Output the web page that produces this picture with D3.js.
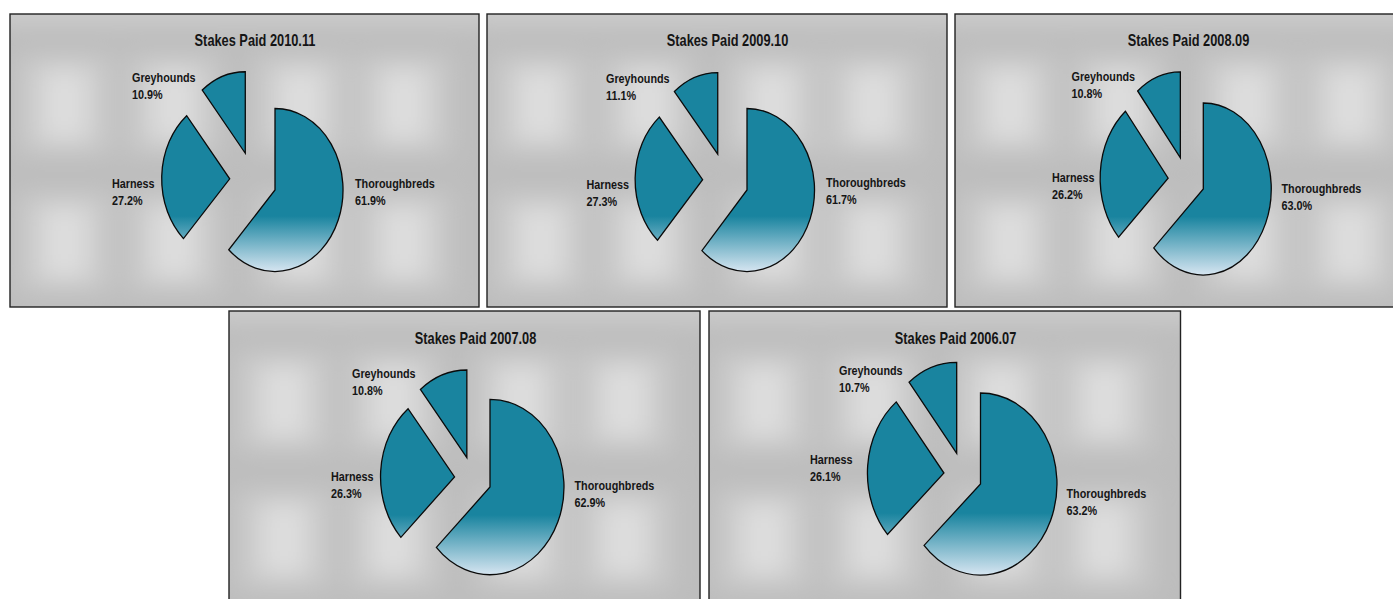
<!DOCTYPE html>
<html>
<head>
<meta charset="utf-8">
<script src="https://cdn.jsdelivr.net/npm/d3@7"></script>
<style>
body { margin: 0; background: #fff; }
svg { display: block; }
text { font-family: "Liberation Sans", sans-serif; font-weight: bold; fill: #151515; }
</style>
</head>
<body>
<div id="chart"></div>
<script>
var seasons = ["2010.11", "2009.10", "2008.09", "2007.08", "2006.07"];
var categories = ["Thoroughbreds", "Harness", "Greyhounds"];
var thoroughbreds = [61.9, 61.7, 63.0, 62.9, 63.2];
var harness = [27.2, 27.3, 26.2, 26.3, 26.1];
var greyhounds = [10.9, 11.1, 10.8, 10.8, 10.7];

// layout of each panel
// a = where the thoroughbreds slice has its point, ex = how far slices are pulled out
var panels = [
	{x: 10, y: 14, w: 469, h: 293, ax: 275, ay: 190, rx: 68, ry: 81.5, ex: .345, titleX: 255, titleY: 46,
		labels: [[355, 188], [112, 188], [132, 82]]},
	{x: 487, y: 14, w: 460, h: 293, ax: 747, ay: 190, rx: 67.5, ry: 81.5, ex: .34, titleX: 727.5, titleY: 46,
		labels: [[826, 187], [586.5, 189], [606, 82.5]]},
	{x: 955, y: 14, w: 470, h: 293, ax: 1203.3, ay: 189, rx: 68, ry: 86, ex: .27, titleX: 1188.5, titleY: 46,
		labels: [[1281.5, 193], [1052, 182], [1071.5, 81]]},
	{x: 229, y: 311, w: 471, h: 293, ax: 490, ay: 487, rx: 74, ry: 87.7, ex: .25, titleX: 475.5, titleY: 343.5,
		labels: [[574.5, 490], [331, 481], [352, 378]]},
	{x: 709, y: 311, w: 471.5, h: 293, ax: 980.5, ay: 484, rx: 76.5, ry: 91, ex: .25, titleX: 955.5, titleY: 343.5,
		labels: [[1066.5, 498], [810, 464], [839, 375]]}
];

var teal = "#19849f";
var pale = "#d6e5f1";
// no narrow bold font here, so squeeze the normal one sideways
var squeeze = .8;

var svg = d3.select("#chart").append("svg")
	.attr("width", 1393)
	.attr("height", 599);

var defs = svg.append("defs");
defs.append("filter")
	.attr("id", "soft")
	.attr("x", "-60%").attr("y", "-60%")
	.attr("width", "220%").attr("height", "220%")
	.append("feGaussianBlur")
	.attr("stdDeviation", 12);

var pie = d3.pie().sort(null).value(function(d){ return d; });
var arc = d3.arc().innerRadius(0).outerRadius(1);

function drawBackground(g, p, i){
	var clipId = "clip" + i;
	defs.append("clipPath").attr("id", clipId)
		.append("rect")
		.attr("x", p.x).attr("y", p.y)
		.attr("width", p.w).attr("height", p.h);

	var bg = g.append("g").attr("clip-path", "url(#" + clipId + ")");
	bg.append("rect")
		.attr("x", p.x).attr("y", p.y)
		.attr("width", p.w).attr("height", p.h)
		.attr("fill", "#bdbdbd");

	var blur = bg.append("g").attr("filter", "url(#soft)");
	// lighter strip along the top edge
	blur.append("rect")
		.attr("x", p.x - 20).attr("y", p.y - 20)
		.attr("width", p.w + 40).attr("height", 30)
		.attr("fill", "#cdcdcd");

	var cols = [.117, .35, .62, .84];
	var rows = [.31, .78];
	cols.forEach(function(cx){
		rows.forEach(function(cy){
			blur.append("rect")
				.attr("x", p.x + p.w * cx - 48).attr("y", p.y + p.h * cy - 50)
				.attr("width", 96).attr("height", 100)
				.attr("fill", "#c9c9c9");
			blur.append("rect")
				.attr("x", p.x + p.w * cx - 24).attr("y", p.y + p.h * cy - 36)
				.attr("width", 48).attr("height", 72)
				.attr("fill", "#dddddd");
		});
	});
}

function addText(parent, x, y, size, anchor, str){
	return parent.append("text")
		.attr("transform", "translate(" + x + "," + y + ") scale(" + squeeze + ",1)")
		.attr("text-anchor", anchor)
		.attr("font-size", size)
		.text(str);
}

function drawPanel(p, i){
	var g = svg.append("g");
	drawBackground(g, p, i);

	g.append("rect")
		.attr("x", p.x).attr("y", p.y)
		.attr("width", p.w).attr("height", p.h)
		.attr("fill", "none")
		.attr("stroke", "#222")
		.attr("stroke-width", 1.4);

	addText(g, p.titleX, p.titleY, 16, "middle", "Stakes Paid " + seasons[i]);

	var values = [thoroughbreds[i], harness[i], greyhounds[i]];
	var slices = pie(values);

	function offset(s){
		var mid = (s.startAngle + s.endAngle) / 2;
		return [p.ex * p.rx * Math.sin(mid), -p.ex * p.ry * Math.cos(mid)];
	}
	var first = offset(slices[0]);
	var cx = p.ax - first[0];
	var cy = p.ay - first[1];

	// fade runs over the bottom third of the pie, shared by all slices
	var bottom = p.ay + p.ry;
	var fadeTop = bottom - .34 * 2 * p.ry;

	slices.forEach(function(s, j){
		var o = offset(s);
		var sx = cx + o[0];
		var sy = cy + o[1];
		var id = "fade" + i + "_" + j;
		var grad = defs.append("linearGradient")
			.attr("id", id)
			.attr("gradientUnits", "userSpaceOnUse")
			.attr("x1", 0).attr("x2", 0)
			.attr("y1", (fadeTop - sy) / p.ry)
			.attr("y2", (bottom - sy) / p.ry);
		grad.append("stop").attr("offset", 0).attr("stop-color", teal);
		grad.append("stop").attr("offset", 1).attr("stop-color", pale);

		g.append("path")
			.attr("d", arc(s))
			.attr("transform", "translate(" + sx + "," + sy + ") scale(" + p.rx + "," + p.ry + ")")
			.attr("fill", "url(#" + id + ")")
			.attr("stroke", "#0a0a0a")
			.attr("stroke-width", 1.3)
			.attr("vector-effect", "non-scaling-stroke");

		addText(g, p.labels[j][0], p.labels[j][1], 13.5, "start", categories[j]);
		addText(g, p.labels[j][0], p.labels[j][1] + 17, 13.5, "start", values[j].toFixed(1) + "%");
	});
}

panels.forEach(drawPanel);
</script>
</body>
</html>
